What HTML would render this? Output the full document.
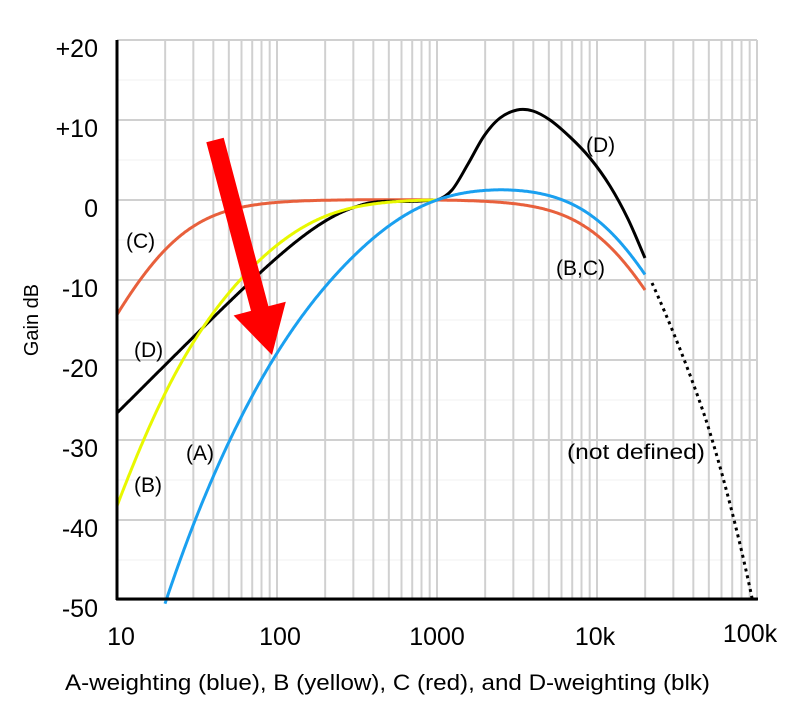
<!DOCTYPE html>
<html><head><meta charset="utf-8"><style>
body{margin:0;background:#fff}
svg{display:block;font-family:"Liberation Sans",sans-serif}
</style></head><body>
<svg id="s" width="800" height="721" viewBox="0 0 800 721" xmlns="http://www.w3.org/2000/svg">
<g id="grid"></g>
<g id="curves" fill="none" stroke-width="3" stroke-linejoin="round"></g>
<path d="M652,283 C668,318 690,372 706,420 C722,470 740,540 752,598" fill="none" stroke="#000" stroke-width="3" stroke-dasharray="3,4"/>
<line x1="117" y1="40" x2="117" y2="600" stroke="#000" stroke-width="3"/>
<line x1="116" y1="599" x2="758" y2="599" stroke="#000" stroke-width="3"/>
<polygon id="arrow" fill="#ff0000"/>
<g font-size="25" text-anchor="end" fill="#000">
<text x="98" y="57">+20</text><text x="98" y="137">+10</text><text x="98" y="217">0</text>
<text x="98" y="297">-10</text><text x="98" y="377">-20</text><text x="98" y="457">-30</text>
<text x="98" y="537">-40</text><text x="98" y="617">-50</text>
</g>
<g font-size="25" text-anchor="middle">
<text x="121" y="645">10</text><text x="280" y="645">100</text><text x="437" y="645">1000</text>
<text x="595" y="645">10k</text><text x="750" y="642">100k</text>
</g>
<text transform="translate(38,320) rotate(-90)" font-size="20" text-anchor="middle">Gain dB</text>
<text x="65" y="690" font-size="22" textLength="645" lengthAdjust="spacingAndGlyphs">A-weighting (blue), B (yellow), C (red), and D-weighting (blk)</text>
<g font-size="21">
<text x="586" y="152">(D)</text><text x="556" y="275">(B,C)</text><text x="567" y="459" textLength="138" lengthAdjust="spacingAndGlyphs">(not defined)</text>
<text x="126" y="248">(C)</text><text x="134" y="357">(D)</text><text x="186" y="460">(A)</text><text x="134" y="492">(B)</text>
</g>
</svg>
<script>
var ns="http://www.w3.org/2000/svg",g=document.getElementById("grid"),cv=document.getElementById("curves");
function X(f){return 117+160*(Math.log10(f)-1);}function Y(d){return 200-8*d;}
function L(x1,y1,x2,y2,c,w){var l=document.createElementNS(ns,"line");l.setAttribute("x1",x1);l.setAttribute("y1",y1);l.setAttribute("x2",x2);l.setAttribute("y2",y2);l.setAttribute("stroke",c);l.setAttribute("stroke-width",w);g.appendChild(l);}
for(var d=-45;d<=15;d+=10)L(117,Y(d),757,Y(d),"#f0f0f0",1);
for(var d=-50;d<=20;d+=10)L(117,Y(d),757,Y(d),"#d0d0d0",2);
for(var e=10;e<=100000;e*=10)for(var k=1;k<=9;k++){var f=e*k;if(f>100000)break;L(X(f),40,X(f),599,"#d0d0d0",2);}
function A(f){var f2=f*f;return 12194*12194*f2*f2/((f2+20.6*20.6)*Math.sqrt((f2+107.7*107.7)*(f2+737.9*737.9))*(f2+12194*12194));}
function B(f){var f2=f*f;return 12194*12194*f2*f/((f2+20.6*20.6)*Math.sqrt(f2+158.5*158.5)*(f2+12194*12194));}
function C(f){var f2=f*f;return 12194*12194*f2/((f2+20.6*20.6)*(f2+12194*12194));}
function D(f){var f2=f*f;var h=(Math.pow(1037918.48-f2,2)+1080768.16*f2)/(Math.pow(9837328-f2,2)+11723776*f2);return f*Math.sqrt(h/((f2+79919.29)*(f2+1345600)));}
function pathOf(fn,maxlf){var n=20*Math.log10(fn(1000)),p="",first=true;
for(var lf=1;lf<=maxlf;lf+=0.005){var f=Math.pow(10,lf),db=20*Math.log10(fn(f))-n;if(db<-50.5)continue;if(fn===D&&lf>2.5)db=Math.min(db,0)*(1-(lf-2.5)/0.5)+0;p+=(first?"M":"L")+X(f).toFixed(1)+","+Y(db).toFixed(1);first=false;}
return p;}
function add(d,col){var pa=document.createElementNS(ns,"path");pa.setAttribute("d",d);pa.setAttribute("stroke",col);cv.appendChild(pa);}
var dpath=pathOf(D,3.0);
var pts=[[420,200],[437,200],[452,190],[468,164],[484,136],[500,118],[517,110],[533,111],[550,120],[570,137],[590,158],[610,186],[628,219],[645,258],[655,280]];
for(var i=1;i<pts.length-2;i++){var p0=pts[i-1],p1=pts[i],p2=pts[i+1],p3=pts[i+2];
dpath+="C"+(p1[0]+(p2[0]-p0[0])/6).toFixed(1)+","+(p1[1]+(p2[1]-p0[1])/6).toFixed(1)+" "+(p2[0]-(p3[0]-p1[0])/6).toFixed(1)+","+(p2[1]-(p3[1]-p1[1])/6).toFixed(1)+" "+p2[0]+","+p2[1];}
add(pathOf(C,4.301),"#e8603c");
add(dpath,"#000");
add(pathOf(B,3.0),"#e8f800");
add(pathOf(A,4.301),"#1aa0f0");
var sx=215,sy=140,tx=272,ty=355,dx=tx-sx,dy=ty-sy,len=Math.hypot(dx,dy);dx/=len;dy/=len;var px=-dy,py=dx;
var bx=tx-48*dx,by=ty-48*dy,w=9,hw=27;
var ap=[[sx+px*w,sy+py*w],[bx+px*w,by+py*w],[bx+px*hw,by+py*hw],[tx,ty],[bx-px*hw,by-py*hw],[bx-px*w,by-py*w],[sx-px*w,sy-py*w]];
document.getElementById("arrow").setAttribute("points",ap.map(function(q){return q[0].toFixed(1)+","+q[1].toFixed(1)}).join(" "));
</script>
</body></html>
